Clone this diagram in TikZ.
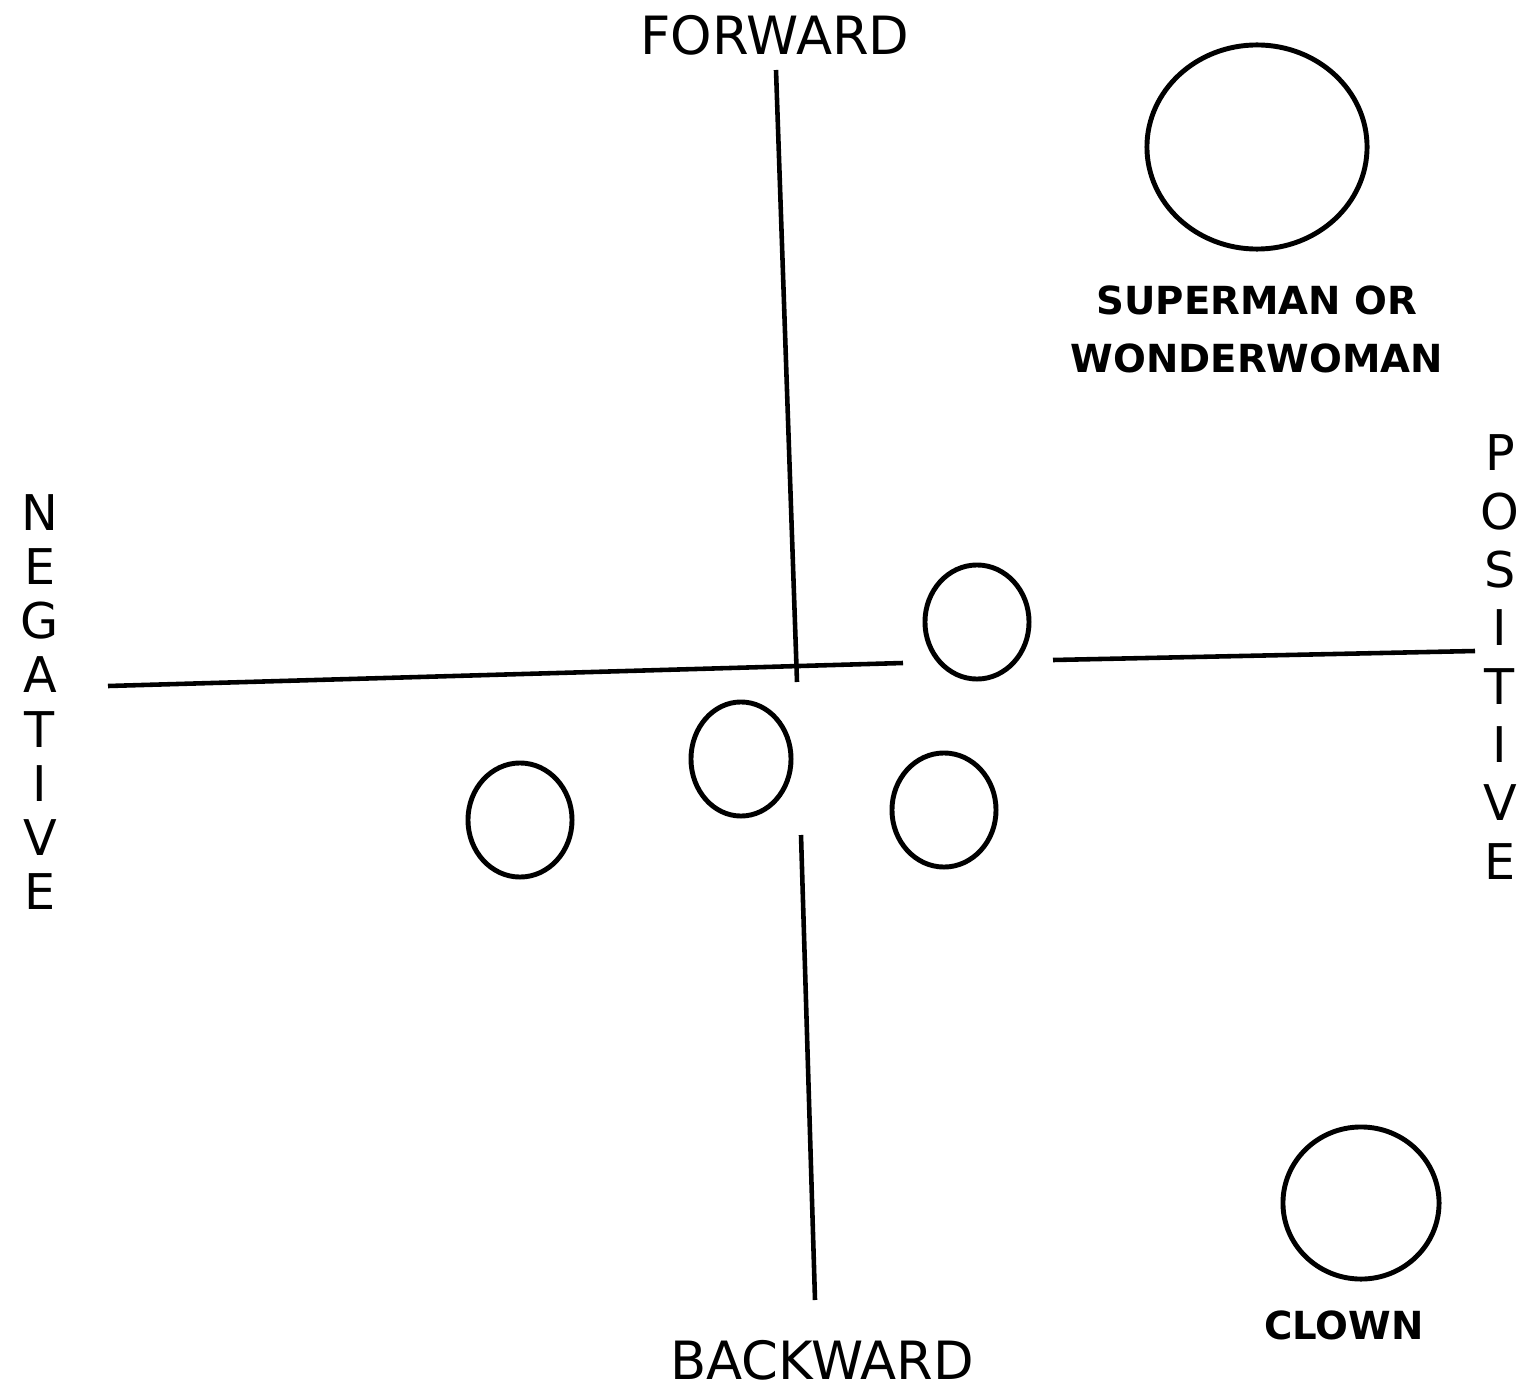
\documentclass[tikz,border=0pt]{standalone}
\usepackage{fontspec}
\setmainfont{DejaVu Sans}
\usepackage{tikz}
\usetikzlibrary{shapes.geometric}

\begin{document}
\begin{tikzpicture}[
  x=0.01cm, y=-0.01cm,
  axis/.style={line width=1.3pt},
  blob/.style={draw, ellipse, line width=1.4pt, inner sep=0pt,
    minimum width=#1},
  dirlabel/.style={font=\fontsize{15}{16}\selectfont, inner sep=0pt},
  stack/.style={font=\fontsize{14}{#1}\selectfont, align=center, inner sep=0pt},
  tag/.style={font=\bfseries\fontsize{11}{16.5}\selectfont, align=center, inner sep=0pt}
]
\useasboundingbox (0,0) rectangle (1521,1394);
% axes
\coordinate (fwdtop) at (776,70);
\coordinate (fwdend) at (797,682);
\coordinate (bwdtop) at (801,835);
\coordinate (bwdend) at (815,1300);
\coordinate (negend) at (108,686);
\coordinate (negtip) at (903,663);
\coordinate (posstart) at (1053,660);
\coordinate (posend) at (1475,651);
\draw[axis] (fwdtop) -- (fwdend);
\draw[axis] (bwdtop) -- (bwdend);
\draw[axis] (negend) -- (negtip);
\draw[axis] (posstart) -- (posend);
% labels on the axes
\node[dirlabel] (forward) at (775,35) {FORWARD};
\node[dirlabel] (backward) at (822,1360) {BACKWARD};
\node[stack=15.4] (negative) at (40,702) {N\\E\\G\\A\\T\\I\\V\\E};
\node[stack=16.6] (positive) at (1500,657) {P\\O\\S\\I\\T\\I\\V\\E};
% people
\node[blob=2.2cm, minimum height=2.04cm] (hero) at (1257,147) {};
\node[tag] (herotag) at (1257,329) {SUPERMAN OR\\WONDERWOMAN};
\node[blob=1.56cm, minimum height=1.52cm] (clown) at (1361,1203) {};
\node[tag] (clowntag) at (1344,1325) {CLOWN};
\node[blob=1.04cm, minimum height=1.14cm] (pA) at (977,622) {};
\node[blob=1.0cm, minimum height=1.14cm] (pB) at (741,759) {};
\node[blob=1.04cm, minimum height=1.14cm] (pC) at (520,820) {};
\node[blob=1.04cm, minimum height=1.14cm] (pD) at (944,810) {};
\end{tikzpicture}
\end{document}
